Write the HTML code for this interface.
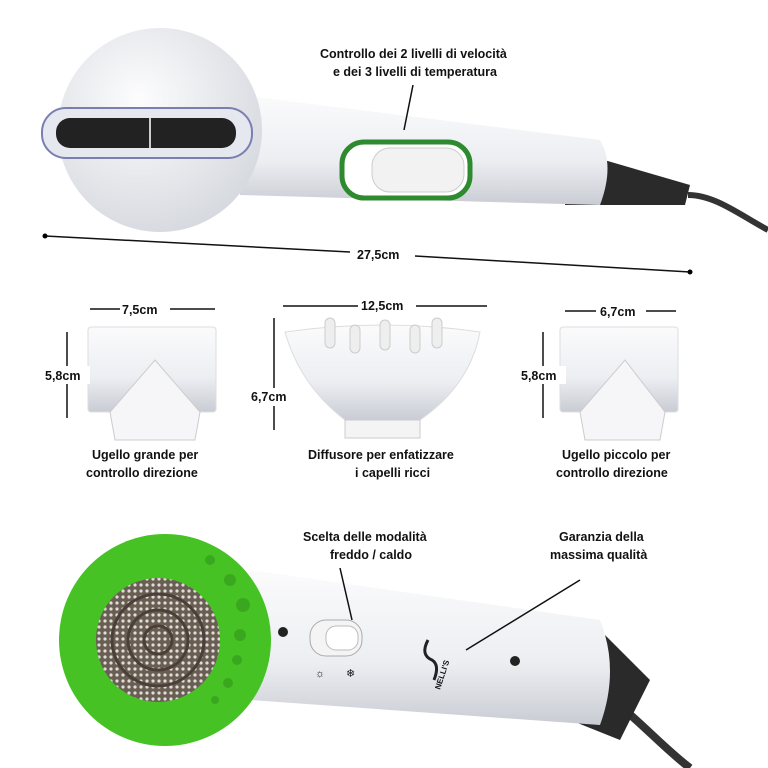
<!DOCTYPE html>
<html><head><meta charset="utf-8"><style>
body{margin:0;width:768px;height:768px;background:#fff;overflow:hidden;font-family:"Liberation Sans",sans-serif}
svg{display:block}
text{font-family:"Liberation Sans",sans-serif;font-size:12.5px;fill:#111;font-weight:bold}
</style></head><body>
<svg width="768" height="768" viewBox="0 0 768 768">
<defs>
<linearGradient id="w" x1="0" y1="0" x2="0" y2="1"><stop offset="0" stop-color="#fbfbfc"/><stop offset="0.6" stop-color="#eceef2"/><stop offset="1" stop-color="#c9ccd3"/></linearGradient>
<radialGradient id="h" cx="0.4" cy="0.35" r="0.7"><stop offset="0" stop-color="#fdfdfe"/><stop offset="1" stop-color="#d5d8de"/></radialGradient>
<pattern id="mesh" width="6" height="6" patternUnits="userSpaceOnUse"><rect width="6" height="6" fill="#6a5e52"/><circle cx="3" cy="3" r="1.6" fill="#ddd"/></pattern>
</defs>
<!-- top dryer -->
<path d="M688,195 C715,195 740,215 768,230" stroke="#333" stroke-width="6" fill="none"/>
<path d="M570,150 L690,185 L685,205 L565,205 Z" fill="#2a2a2a"/>
<path d="M240,95 L600,140 Q615,165 600,205 L240,195 Z" fill="url(#w)"/>
<circle cx="160" cy="130" r="102" fill="url(#h)"/>
<rect x="42" y="108" width="210" height="50" rx="24" fill="#e6e8f0" stroke="#7a7fb0" stroke-width="2"/>
<rect x="56" y="118" width="180" height="30" rx="14" fill="#222"/>
<line x1="150" y1="118" x2="150" y2="148" stroke="#ccc" stroke-width="2"/>
<rect x="342" y="142" width="128" height="56" rx="22" fill="#fff" stroke="#2e8a2e" stroke-width="5"/>
<rect x="372" y="148" width="92" height="44" rx="18" fill="#f2f2f2" stroke="#ccc"/>
<line x1="404" y1="130" x2="413" y2="85" stroke="#111" stroke-width="1.5"/>
<text x="320" y="58">Controllo dei 2 livelli di velocità</text>
<text x="333" y="76">e dei 3 livelli di temperatura</text>
<!-- dimension -->
<line x1="45" y1="236" x2="350" y2="252" stroke="#111" stroke-width="1.5"/>
<line x1="415" y1="256" x2="690" y2="272" stroke="#111" stroke-width="1.5"/>
<circle cx="45" cy="236" r="2.5"/><circle cx="690" cy="272" r="2.5"/>
<text x="357" y="259">27,5cm</text>
<!-- attachments -->
<g fill="url(#w)" stroke="#ddd">
<rect x="88" y="327" width="128" height="85" rx="3"/>
<path d="M285,332 Q385,318 480,332 Q470,385 420,420 L345,420 Q300,385 285,332Z"/>
<rect x="560" y="327" width="118" height="85" rx="3"/>
</g>
<path d="M110,412 L155,360 L200,412 L195,440 L115,440Z" fill="#f6f6f8" stroke="#ccc"/>
<path d="M580,412 L625,360 L665,412 L660,440 L585,440Z" fill="#f6f6f8" stroke="#ccc"/>
<rect x="345" y="420" width="75" height="18" fill="#f4f4f4" stroke="#ccc"/>
<g fill="#eee" stroke="#ccc"><rect x="325" y="318" width="10" height="30" rx="5"/><rect x="350" y="325" width="10" height="28" rx="5"/><rect x="380" y="320" width="10" height="30" rx="5"/><rect x="410" y="325" width="10" height="28" rx="5"/><rect x="432" y="318" width="10" height="30" rx="5"/></g>
<g stroke="#111" stroke-width="1.5">
<line x1="90" y1="309" x2="215" y2="309"/><line x1="283" y1="306" x2="487" y2="306"/><line x1="565" y1="311" x2="676" y2="311"/>
<line x1="67" y1="332" x2="67" y2="418"/><line x1="274" y1="318" x2="274" y2="430"/><line x1="543" y1="332" x2="543" y2="418"/>
</g>
<rect x="120" y="300" width="50" height="18" fill="#fff"/><text x="122" y="314">7,5cm</text>
<rect x="358" y="296" width="58" height="18" fill="#fff"/><text x="361" y="310">12,5cm</text>
<rect x="596" y="302" width="50" height="18" fill="#fff"/><text x="600" y="316">6,7cm</text>
<rect x="44" y="366" width="46" height="18" fill="#fff"/><text x="45" y="380">5,8cm</text>
<rect x="250" y="388" width="48" height="18" fill="#fff"/><text x="251" y="401">6,7cm</text>
<rect x="520" y="366" width="46" height="18" fill="#fff"/><text x="521" y="380">5,8cm</text>
<text x="92" y="459">Ugello grande per</text><text x="86" y="477">controllo direzione</text>
<text x="308" y="459">Diffusore per enfatizzare</text><text x="355" y="477">i capelli ricci</text>
<text x="562" y="459">Ugello piccolo per</text><text x="556" y="477">controllo direzione</text>
<!-- bottom dryer -->
<path d="M600,690 C640,720 660,745 690,768" stroke="#333" stroke-width="8" fill="none"/>
<path d="M590,620 L650,680 L620,740 L570,720Z" fill="#2a2a2a"/>
<path d="M250,570 L600,620 Q620,670 600,725 L250,700 Z" fill="url(#w)"/>
<circle cx="165" cy="640" r="106" fill="#47c225"/>
<circle cx="158" cy="640" r="62" fill="url(#mesh)"/>
<g fill="none" stroke="#4a4038" stroke-width="3"><circle cx="158" cy="640" r="14"/><circle cx="158" cy="640" r="30"/><circle cx="158" cy="640" r="46"/></g>
<g fill="#3aa81e"><circle cx="210" cy="560" r="5"/><circle cx="230" cy="580" r="6"/><circle cx="243" cy="605" r="7"/><circle cx="240" cy="635" r="6"/><circle cx="237" cy="660" r="5"/><circle cx="228" cy="683" r="5"/><circle cx="215" cy="700" r="4"/></g>
<circle cx="283" cy="632" r="5" fill="#222"/><circle cx="515" cy="661" r="5" fill="#222"/>
<rect x="310" y="620" width="52" height="36" rx="16" fill="#f4f4f4" stroke="#aaa"/>
<rect x="326" y="626" width="32" height="24" rx="10" fill="#fff" stroke="#bbb"/>
<text x="315" y="677" style="font-size:11px;font-weight:normal">☼</text><text x="346" y="677" style="font-size:11px;font-weight:normal">❄</text>
<path d="M428,640 Q420,655 432,660 Q440,665 434,680" stroke="#222" stroke-width="3" fill="none"/>
<text x="0" y="0" transform="translate(440,690) rotate(-72)" style="font-size:8px">NELLI'S</text>
<line x1="340" y1="568" x2="352" y2="620" stroke="#111" stroke-width="1.5"/>
<line x1="580" y1="580" x2="466" y2="650" stroke="#111" stroke-width="1.5"/>
<text x="303" y="541">Scelta delle modalità</text><text x="330" y="559">freddo / caldo</text>
<text x="559" y="541">Garanzia della</text><text x="550" y="559">massima qualità</text>
</svg>
</body></html>
